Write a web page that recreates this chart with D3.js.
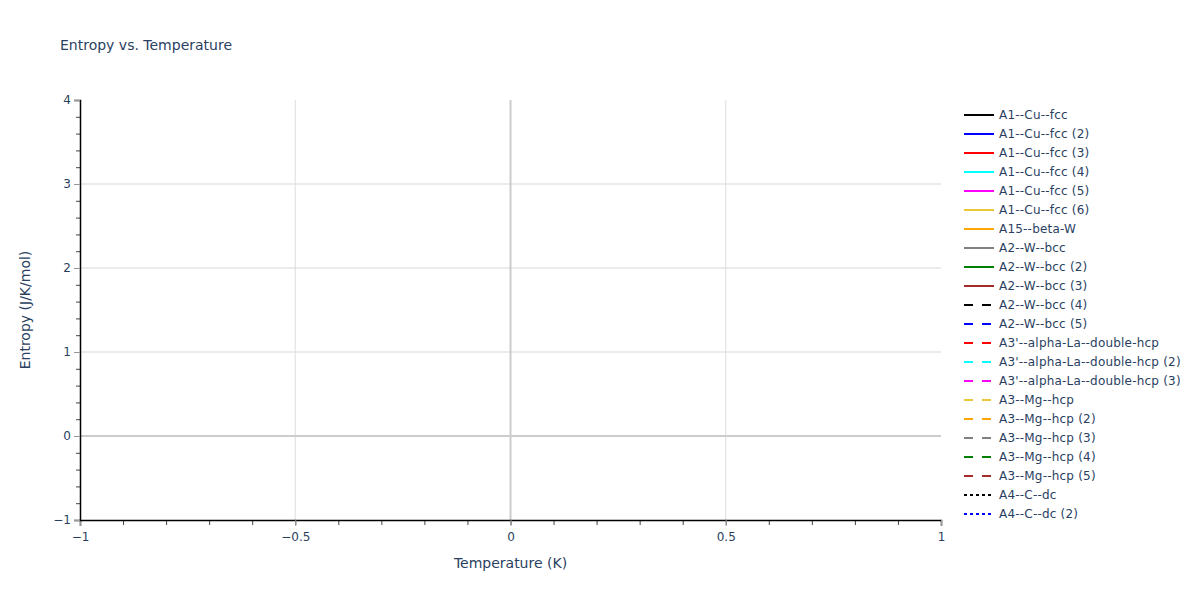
<!DOCTYPE html>
<html>
<head>
<meta charset="utf-8">
<script src="https://cdn.jsdelivr.net/npm/d3@7"></script>
<style>
  body { margin: 0; background: #fff; }
  text { font-family: "DejaVu Sans", verdana, arial, sans-serif; fill: #2a3f5f; }
</style>
</head>
<body>
<div id="output"></div>
<script>
var w = 1200;  // svg width
var h = 600;   // svg height
var margin = { top: 100, right: 259, bottom: 80, left: 80 };

// chart data: every trace is empty, only the legend shows
var seriesNames = [
  'A1--Cu--fcc', 'A1--Cu--fcc (2)', 'A1--Cu--fcc (3)', 'A1--Cu--fcc (4)',
  'A1--Cu--fcc (5)', 'A1--Cu--fcc (6)', 'A15--beta-W', 'A2--W--bcc',
  'A2--W--bcc (2)', 'A2--W--bcc (3)', 'A2--W--bcc (4)', 'A2--W--bcc (5)',
  "A3'--alpha-La--double-hcp", "A3'--alpha-La--double-hcp (2)", "A3'--alpha-La--double-hcp (3)",
  'A3--Mg--hcp', 'A3--Mg--hcp (2)', 'A3--Mg--hcp (3)', 'A3--Mg--hcp (4)', 'A3--Mg--hcp (5)',
  'A4--C--dc', 'A4--C--dc (2)'
];
var seriesColors = [
  '#000000', '#0000ff', '#ff0000', '#00ffff', '#ff00ff', '#ebc837', '#ffa500', '#808080',
  '#008000', '#a52a2a', '#000000', '#0000ff', '#ff0000', '#00ffff', '#ff00ff', '#ebc837',
  '#ffa500', '#808080', '#008000', '#a52a2a', '#000000', '#0000ff'
];
var seriesDash = [
  'solid', 'solid', 'solid', 'solid', 'solid', 'solid', 'solid', 'solid', 'solid', 'solid',
  'dash', 'dash', 'dash', 'dash', 'dash', 'dash', 'dash', 'dash', 'dash', 'dash',
  'dot', 'dot'
];
var seriesTemps = seriesNames.map(function() { return []; });     // no points
var seriesEntropy = seriesNames.map(function() { return []; });   // no points

var xTicks = [-1, -0.5, 0, 0.5, 1];
var xTickLabels = ['\u22121', '\u22120.5', '0', '0.5', '1'];
var yTicks = [-1, 0, 1, 2, 3, 4];
var yTickLabels = ['\u22121', '0', '1', '2', '3', '4'];
var xMinor = d3.range(-10, 11).map(function(d) { return d / 10; });
var yMinor = d3.range(-5, 21).map(function(d) { return d / 5; });

var dashArray = { solid: null, dash: '9,9', dot: '3,3' };

var svg = d3.select('#output').append('svg')
  .attr('width', w)
  .attr('height', h);

var x = d3.scaleLinear().domain([-1, 1]).range([margin.left, w - margin.right]);
var y = d3.scaleLinear().domain([-1, 4]).range([h - margin.bottom, margin.top]);

// grid lines
svg.append('g').selectAll('line')
  .data(yTicks.filter(function(d) { return d > 0 && d < 4; }))
  .enter().append('line')
  .attr('x1', x(-1)).attr('x2', x(1))
  .attr('y1', function(d) { return y(d); }).attr('y2', function(d) { return y(d); })
  .attr('stroke', '#ebebeb').attr('stroke-width', 2);

svg.append('g').selectAll('line')
  .data([-0.5, 0.5])
  .enter().append('line')
  .attr('x1', function(d) { return x(d); }).attr('x2', function(d) { return x(d); })
  .attr('y1', y(-1)).attr('y2', y(4))
  .attr('stroke', '#dddddd').attr('stroke-width', 1);

// zero lines
svg.append('line')
  .attr('x1', x(-1)).attr('x2', x(1)).attr('y1', y(0)).attr('y2', y(0))
  .attr('stroke', '#cccccc').attr('stroke-width', 2);
svg.append('line')
  .attr('x1', x(0)).attr('x2', x(0)).attr('y1', y(-1)).attr('y2', y(4))
  .attr('stroke', '#cccccc').attr('stroke-width', 2);

// traces (empty)
var line = d3.line()
  .x(function(d) { return x(d[0]); })
  .y(function(d) { return y(d[1]); });
svg.append('g').selectAll('path')
  .data(seriesNames)
  .enter().append('path')
  .attr('d', function(d, i) { return line(d3.zip(seriesTemps[i], seriesEntropy[i])); })
  .attr('fill', 'none')
  .attr('stroke', function(d, i) { return seriesColors[i]; })
  .attr('stroke-width', 2)
  .attr('stroke-dasharray', function(d, i) { return dashArray[seriesDash[i]]; });

// minor ticks
svg.append('g')
  .attr('transform', 'translate(0,' + y(-1) + ')')
  .call(d3.axisBottom(x).tickValues(xMinor).tickSize(5).tickFormat(''))
  .call(function(g) { g.select('.domain').remove(); g.selectAll('line').attr('stroke', '#444'); });
svg.append('g')
  .attr('transform', 'translate(' + x(-1) + ',0)')
  .call(d3.axisLeft(y).tickValues(yMinor).tickSize(4).tickFormat(''))
  .call(function(g) { g.select('.domain').remove(); g.selectAll('line').attr('stroke', '#444'); });

// major axes
var xAxis = svg.append('g')
  .attr('transform', 'translate(0,' + y(-1) + ')')
  .call(d3.axisBottom(x).tickValues(xTicks).tickSize(6).tickPadding(6)
    .tickFormat(function(d, i) { return xTickLabels[i]; }));
var yAxis = svg.append('g')
  .attr('transform', 'translate(' + x(-1) + ',0)')
  .call(d3.axisLeft(y).tickValues(yTicks).tickSize(6).tickPadding(3)
    .tickFormat(function(d, i) { return yTickLabels[i]; }));

[xAxis, yAxis].forEach(function(g) {
  g.select('.domain').attr('stroke', '#000').attr('stroke-width', 1.5);
  g.selectAll('.tick line').attr('stroke', '#999');
  g.selectAll('.tick text').style('font-size', '12px').attr('fill', '#2a3f5f')
    .style('font-family', '"DejaVu Sans", verdana, arial, sans-serif');
});

// titles
svg.append('text')
  .attr('x', 60).attr('y', 50)
  .style('font-size', '14px')
  .text('Entropy vs. Temperature');

svg.append('text')
  .attr('x', x(0)).attr('y', 568)
  .attr('text-anchor', 'middle')
  .style('font-size', '14px')
  .text('Temperature (K)');

svg.append('text')
  .attr('transform', 'translate(30,' + y(1.5) + ') rotate(-90)')
  .attr('text-anchor', 'middle')
  .style('font-size', '14px')
  .text('Entropy (J/K/mol)');

// legend
var legend = svg.append('g').attr('transform', 'translate(959,115)');
var item = legend.selectAll('g')
  .data(seriesNames)
  .enter().append('g')
  .attr('transform', function(d, i) { return 'translate(0,' + (i * 19) + ')'; });
item.append('line')
  .attr('x1', 5).attr('x2', 35)
  .attr('stroke', function(d, i) { return seriesColors[i]; })
  .attr('stroke-width', 2)
  .attr('stroke-dasharray', function(d, i) { return dashArray[seriesDash[i]]; });
item.append('text')
  .attr('x', 40).attr('dy', '0.35em')
  .style('font-size', '12px')
  .style('letter-spacing', '0.2px')
  .text(function(d) { return d; });
</script>
</body>
</html>
